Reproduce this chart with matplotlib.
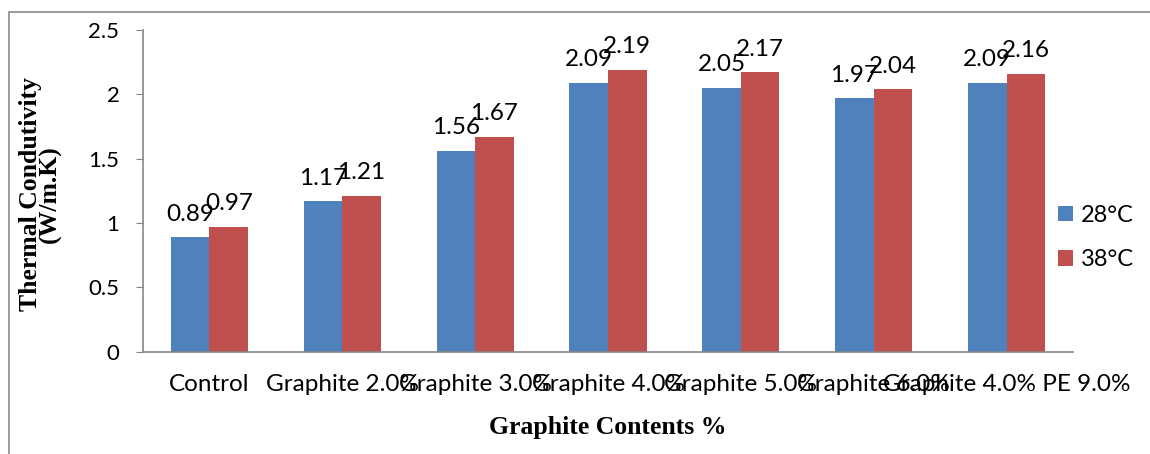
import matplotlib.pyplot as plt
import numpy as np
from matplotlib.patches import Rectangle

plt.rcParams['font.family'] = ['Lato', 'DejaVu Sans']

# Thermal conductivity per graphite content, two test temperatures
categories = ['Control', 'Graphite 2.0%', 'Graphite 3.0%', 'Graphite 4.0%',
              'Graphite 5.0%', 'Graphite 6.0%', 'Graphite 4.0% PE 9.0%']
k_28 = [0.89, 1.17, 1.56, 2.09, 2.05, 1.97, 2.09]
k_38 = [0.97, 1.21, 1.67, 2.19, 2.17, 2.04, 2.16]
series_names = ['28°C', '38°C']
y_ticks = [0, 0.5, 1, 1.5, 2, 2.5]

blue = '#4F81BD'
red = '#C0504D'
axis_grey = '#868686'

W, H = 1150, 454
fig = plt.figure(figsize=(W / 100, H / 100), dpi=100)
ax = fig.add_axes([143 / W, 1 - 351.5 / H, 930 / W, 321.5 / H])

# outer frame of the chart area (only top and left edges fall inside)
fig.patches.append(Rectangle((9 / W, -0.1), 1.2, 1.1 - 12 / H,
                             transform=fig.transFigure, fill=False,
                             edgecolor='#8c8c8c', linewidth=1.2))

x = np.arange(len(categories))
w = 0.29
b1 = ax.bar(x - w / 2, k_28, w, color=blue, label=series_names[0])
b2 = ax.bar(x + w / 2, k_38, w, color=red, label=series_names[1])

for bars, vals in ((b1, k_28), (b2, k_38)):
    for bar, v in zip(bars, vals):
        ax.annotate(f'{v:g}', (bar.get_x() + bar.get_width() / 2, v),
                    xytext=(0, 9), textcoords='offset points',
                    ha='center', va='bottom', fontsize=17.5)

ax.set_xlim(-0.5, len(categories) - 0.5)
ax.set_ylim(0, 2.5)
ax.set_yticks(y_ticks)
ax.set_yticklabels([f'{t:g}' for t in y_ticks], fontsize=16)
ax.set_xticks(x)
ax.set_xticklabels(categories, fontsize=17.5)
ax.tick_params(axis='x', length=0, pad=16)
ax.tick_params(axis='y', length=5, color=axis_grey, pad=12)

for side in ('top', 'right'):
    ax.spines[side].set_visible(False)
for side in ('left', 'bottom'):
    ax.spines[side].set_color(axis_grey)
    ax.spines[side].set_linewidth(1.2)

ax.set_ylabel('Thermal Condutivity\n(W/m.K)', fontsize=18.5, fontweight='bold',
              family='Liberation Serif', linespacing=0.82)
ax.yaxis.set_label_coords(-0.087, 0.49)
ax.set_xlabel('Graphite Contents %', fontsize=18.5, fontweight='bold',
              family='Liberation Serif')
ax.xaxis.set_label_coords(0.5, -0.2)

fig.legend(handles=[b1, b2], loc='center left',
           bbox_to_anchor=(1058 / W, 1 - 237.5 / H), frameon=False,
           borderpad=0, borderaxespad=0,
           fontsize=17, handlelength=0.64, handleheight=0.64,
           handletextpad=0.35, labelspacing=1.0)

fig.savefig('out.png', dpi=100)
